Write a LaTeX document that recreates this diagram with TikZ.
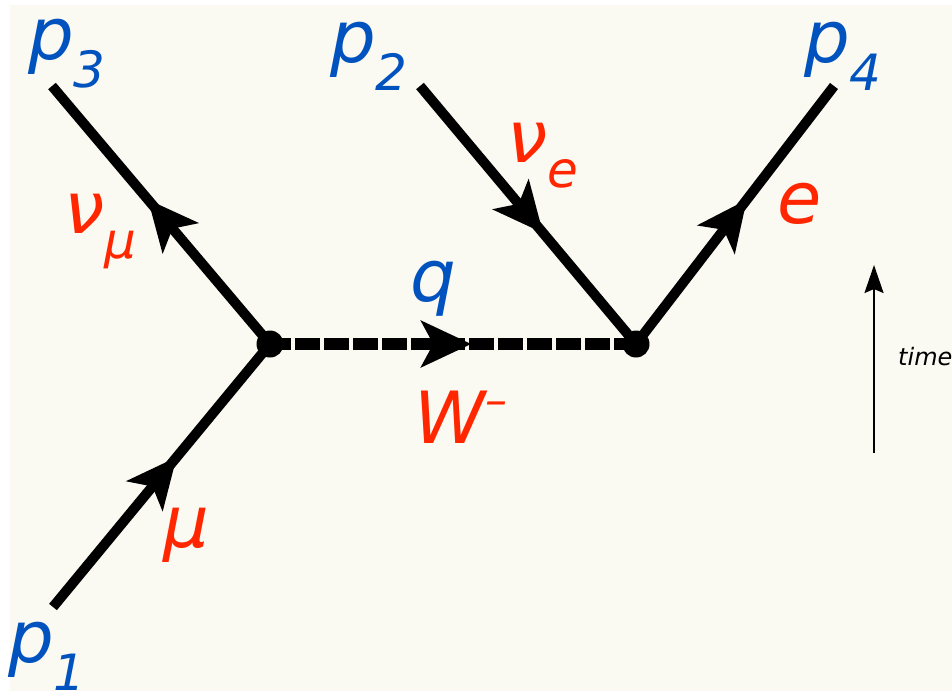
\documentclass[tikz,border=0pt]{standalone}
\usepackage{fontspec}
\setmainfont{DejaVu Sans}
\usetikzlibrary{arrows.meta,decorations.markings}
\definecolor{pblue}{RGB}{0,82,190}
\definecolor{pred}{RGB}{255,38,0}
\definecolor{paper}{RGB}{250,249,242}
\newcommand{\mom}[1]{p\raisebox{-28pt}{\fontsize{50}{50}\selectfont #1}}
\newcommand{\lsub}[2]{#1\raisebox{-25pt}{\fontsize{50}{50}\selectfont #2}}

\begin{document}
\begin{tikzpicture}[x=1pt,y=-1pt,
  big/.style={inner sep=0pt,anchor=base west,font=\fontsize{72}{72}\selectfont\itshape},
  mom/.style={big,text=pblue},
  part/.style={big,text=pred},
  fermion/.style={line width=10pt,postaction={decorate},
    decoration={markings,mark=at position #1 with {\arrow{Stealth[length=50pt,width=46pt,inset=12pt]}}}},
  vtx/.style={circle,fill=black,inner sep=0pt,minimum size=27pt}]
\useasboundingbox (0,0) rectangle (952,691);
\fill[white] (0,0) rectangle (952,691);
\fill[paper] (10,5) rectangle (952,691);
% vertices and external legs
\coordinate (v1) at (270,344);
\coordinate (v2) at (636,344);
\coordinate (e1) at (53,607);
\coordinate (e3) at (52,86);
\coordinate (e2) at (420,86);
\coordinate (e4) at (834,86);
\draw[fermion=0.57] (e1) -- (v1);
\draw[fermion=0.56] (v1) -- (e3);
\draw[fermion=0.57] (e2) -- (v2);
\draw[fermion=0.56] (v2) -- (e4);
\draw[fermion=0.55,line width=12pt,dash pattern=on 25pt off 4pt,dash phase=4pt] (v1) -- (v2);
\node[vtx] (d1) at (v1) {};
\node[vtx] (d2) at (v2) {};
% momenta
\node[mom] (p1) at (8,662) {\mom{1}};
\node[mom] (p2) at (330,62) {\mom{2}};
\node[mom] (p3) at (28,59) {\mom{3}};
\node[mom] (p4) at (804,62) {\mom{4}};
\node[mom] (q) at (410,301) {q};
% particles
\node[part] (mu) at (163,547) {μ};
\node[part] (numu) at (64,233) {\lsub{ν}{μ}};
\node[part] (nue) at (507,162) {\lsub{ν}{e}};
\node[part] (el) at (777,223) {e};
\node[part] (W) at (414,443) {W\raisebox{28pt}{\fontsize{44}{44}\selectfont --}};
% time axis
\coordinate (t0) at (874,453);
\coordinate (t1) at (874,265);
\draw[line width=2pt,-{Stealth[length=28pt,width=19pt,inset=4pt]}] (t0) -- (t1);
\node[inner sep=0pt,anchor=base west,font=\fontsize{24}{24}\selectfont\itshape] (time) at (898,365) {time};
\end{tikzpicture}
\end{document}
